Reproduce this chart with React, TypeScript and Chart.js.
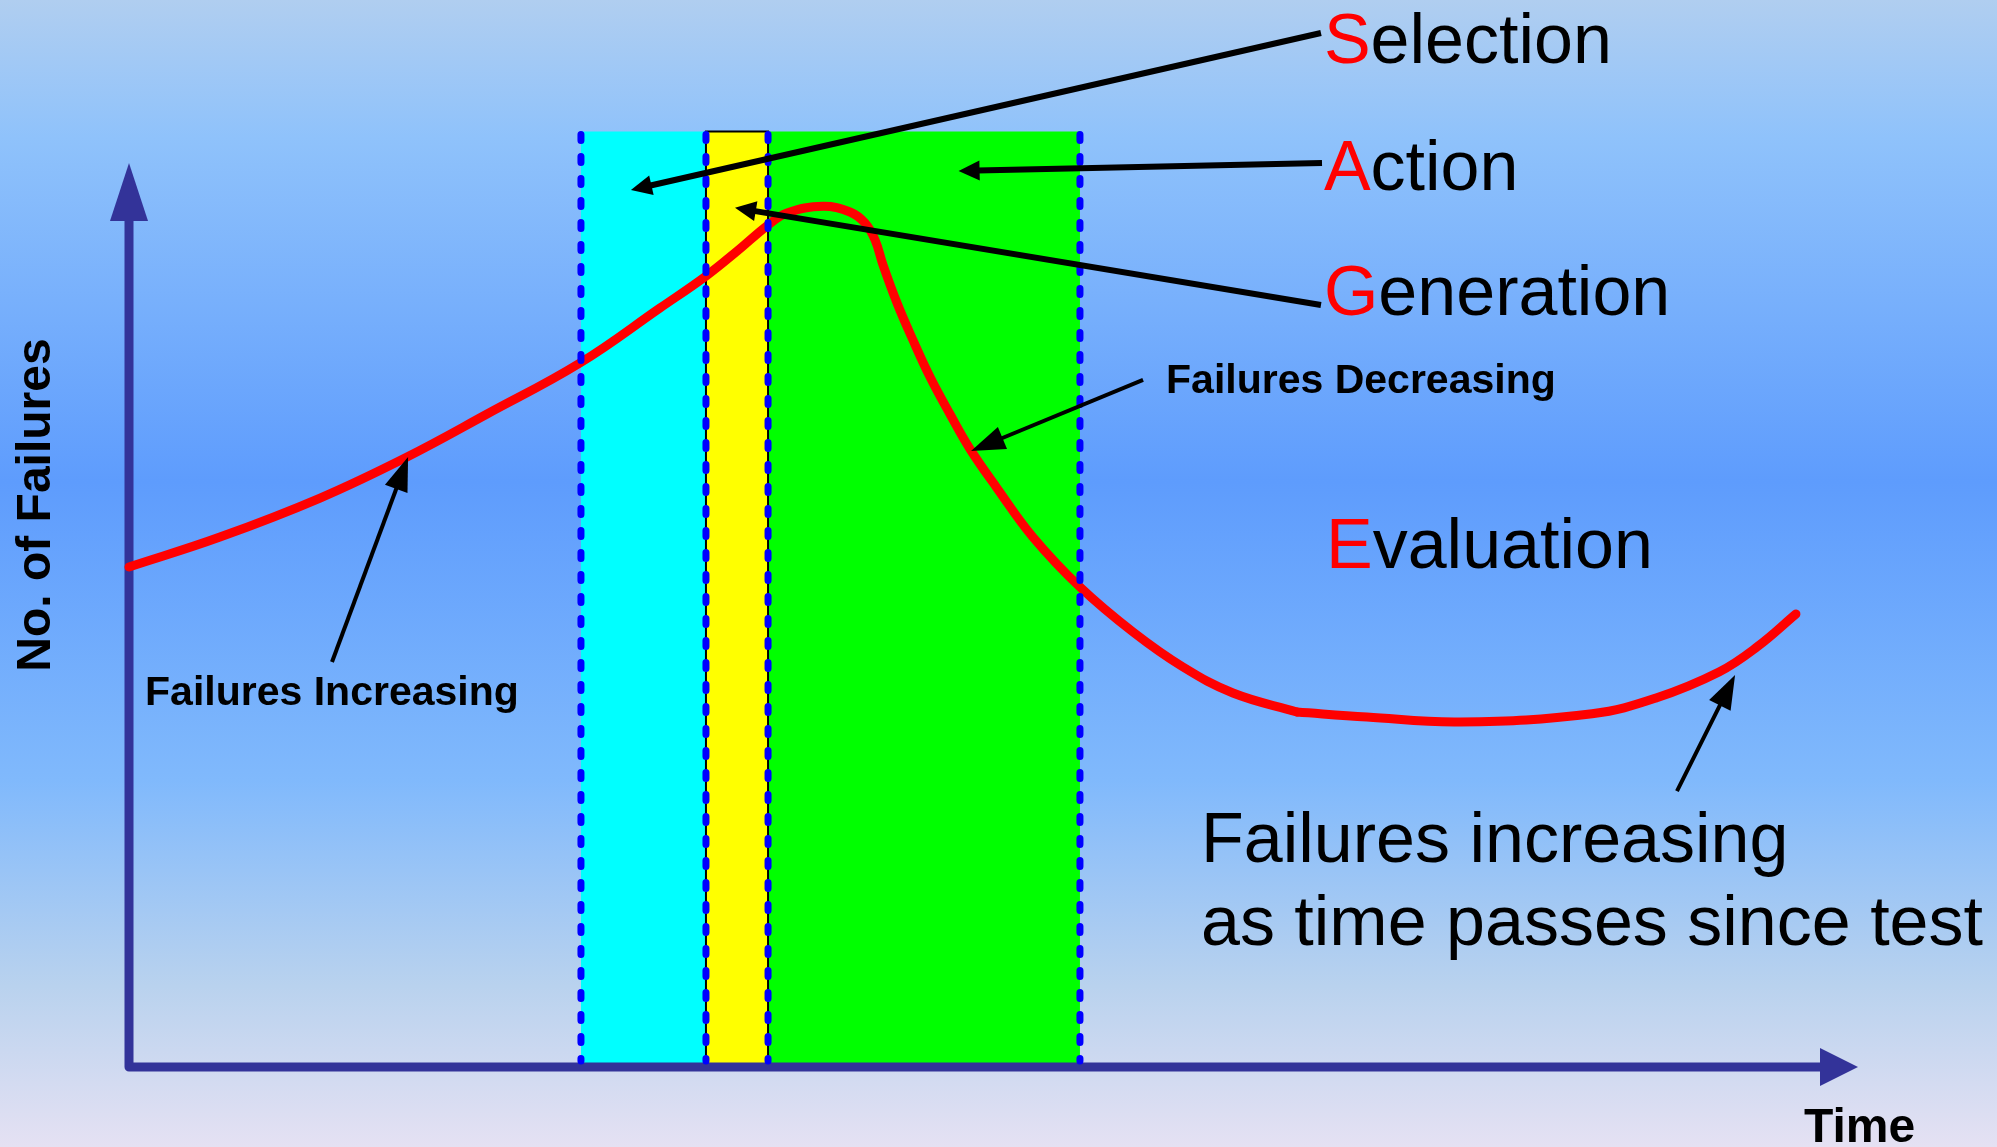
import React, { useEffect, useRef } from "react";
import { Chart, registerables } from "chart.js";

Chart.register(...registerables);

const CANVAS_W = 1997;
const CANVAS_H = 1147;

// Failure curve: time (0–100) vs number of failures (0–100)
const riseTime = [0, 5.26, 11.05, 16.08, 20.71, 26.08, 30.71, 33.37, 35.16, 36.96, 38.06, 40.14, 41.7, 42.57, 43.15, 43.61, 44.42, 45.34, 46.33, 47.48, 48.64, 50.2, 52.28, 55.0, 58.07, 60.96, 63.85, 67.55];
const riseFailures = [53.45, 56.65, 60.82, 65.21, 69.8, 75.25, 81.13, 84.55, 87.2, 90.0, 91.29, 92.0, 91.4, 90.22, 88.4, 85.73, 81.67, 77.71, 73.76, 69.8, 66.06, 61.89, 56.65, 51.31, 46.5, 42.76, 39.98, 37.95];
const tailTime = [67.55, 71.6, 76.98, 84.62, 88.32, 91.96, 94.16, 96.41];
const tailFailures = [37.95, 37.41, 36.88, 37.76, 39.44, 42.22, 44.9, 48.42];

// Phase bands (time units)
const phaseStarts = [26.14, 33.37, 36.96];
const phaseEnds = [33.37, 36.96, 55.0];
const phaseColors = ["#00ffff", "#ffff00", "#00ff00"];
const phaseTop = 100;
const dividerTimes = [26.14, 33.37, 36.96, 55.0];

// Phase words (first letter red)
const sagWords = ["Selection", "Action", "Generation", "Evaluation"];

// Annotation layout (data units)
const sagLabelPos = [
  [69.11, 107.32],
  [69.11, 93.75],
  [69.11, 80.38],
  [69.23, 53.34],
];
const sagArrows = [
  [68.94, 110.53, 29.03, 93.75],
  [69.0, 96.63, 47.98, 95.78],
  [68.94, 81.45, 35.05, 91.85],
];
const noteArrows = [
  [11.74, 43.29, 16.14, 65.2],
  [58.65, 73.44, 48.7, 65.85],
  [89.53, 29.5, 92.89, 41.9],
];

const FONT = "'Liberation Sans', Arial, Helvetica, sans-serif";

function drawArrow(ctx: CanvasRenderingContext2D, x1: number, y1: number, x2: number, y2: number, lw: number, headLen: number, headHalf: number, color: string) {
  const ang = Math.atan2(y2 - y1, x2 - x1);
  const c = Math.cos(ang), s = Math.sin(ang);
  const bx = x2 - headLen * c, by = y2 - headLen * s;
  ctx.save();
  ctx.strokeStyle = color;
  ctx.fillStyle = color;
  ctx.lineWidth = lw;
  ctx.lineCap = "butt";
  ctx.beginPath();
  ctx.moveTo(x1, y1);
  ctx.lineTo(bx + c * 2, by + s * 2);
  ctx.stroke();
  ctx.beginPath();
  ctx.moveTo(x2, y2);
  ctx.lineTo(bx - headHalf * s, by + headHalf * c);
  ctx.lineTo(bx + headHalf * s, by - headHalf * c);
  ctx.closePath();
  ctx.fill();
  ctx.restore();
}

const diagramPlugin = {
  id: "diagram",
  beforeDatasetsDraw(chart: any) {
    const { ctx, scales } = chart;
    const xs = scales.x, ys = scales.y;
    const X = (v: number) => xs.getPixelForValue(v);
    const Y = (v: number) => ys.getPixelForValue(v);
    ctx.save();
    // background
    const g = ctx.createLinearGradient(0, 0, 0, CANVAS_H);
    g.addColorStop(0, "#b0cef0");
    g.addColorStop(0.12, "#8fc2fb");
    g.addColorStop(0.42, "#5e9cfd");
    g.addColorStop(0.68, "#80b9fc");
    g.addColorStop(0.86, "#b9d2ee");
    g.addColorStop(1, "#e5e1f3");
    ctx.fillStyle = g;
    ctx.fillRect(0, 0, CANVAS_W, CANVAS_H);

    // phase bands
    const y0 = Y(0), yt = Y(phaseTop);
    phaseStarts.forEach((s, i) => {
      ctx.fillStyle = phaseColors[i];
      ctx.fillRect(X(s), yt, X(phaseEnds[i]) - X(s), y0 - yt);
    });
    // yellow outline
    ctx.strokeStyle = "#000000";
    ctx.lineWidth = 2;
    ctx.strokeRect(X(phaseStarts[1]), yt, X(phaseEnds[1]) - X(phaseStarts[1]), y0 - yt);

    // axes
    const ax = X(0), ay = Y(0);
    const yTip = Y(96.63), xTip = X(100);
    ctx.strokeStyle = "#333399";
    ctx.fillStyle = "#333399";
    ctx.lineWidth = 9;
    ctx.lineJoin = "round";
    ctx.lineCap = "butt";
    ctx.beginPath();
    ctx.moveTo(ax, yTip + 55);
    ctx.lineTo(ax, ay);
    ctx.lineTo(xTip - 36, ay);
    ctx.stroke();
    ctx.beginPath();
    ctx.moveTo(ax, yTip);
    ctx.lineTo(ax - 19, yTip + 58);
    ctx.lineTo(ax + 19, yTip + 58);
    ctx.closePath();
    ctx.fill();
    ctx.beginPath();
    ctx.moveTo(xTip, ay);
    ctx.lineTo(xTip - 38, ay - 19);
    ctx.lineTo(xTip - 38, ay + 19);
    ctx.closePath();
    ctx.fill();
    ctx.restore();
  },
  afterDatasetsDraw(chart: any) {
    const { ctx, scales } = chart;
    const xs = scales.x, ys = scales.y;
    const X = (v: number) => xs.getPixelForValue(v);
    const Y = (v: number) => ys.getPixelForValue(v);
    ctx.save();
    // dashed dividers
    const y0 = Y(0), yt = Y(phaseTop);
    ctx.strokeStyle = "#0000ff";
    ctx.lineWidth = 7;
    ctx.lineCap = "round";
    ctx.setLineDash([6, 16]);
    dividerTimes.forEach((t) => {
      ctx.beginPath();
      ctx.moveTo(X(t), yt + 3);
      ctx.lineTo(X(t), y0 - 6);
      ctx.stroke();
    });
    ctx.setLineDash([]);

    // arrows
    sagArrows.forEach((a) => drawArrow(ctx, X(a[0]), Y(a[1]), X(a[2]), Y(a[3]), 6, 21, 10, "#000000"));
    noteArrows.forEach((a) => drawArrow(ctx, X(a[0]), Y(a[1]), X(a[2]), Y(a[3]), 4, 34, 12, "#000000"));

    // S A G E labels
    ctx.textBaseline = "alphabetic";
    ctx.textAlign = "left";
    ctx.font = `70px ${FONT}`;
    sagWords.forEach((w, i) => {
      const px = X(sagLabelPos[i][0]), py = Y(sagLabelPos[i][1]);
      ctx.fillStyle = "#ff0000";
      ctx.fillText(w[0], px, py);
      const wFirst = ctx.measureText(w[0]).width;
      ctx.fillStyle = "#000000";
      ctx.fillText(w.slice(1), px + wFirst, py);
    });

    // regular note
    ctx.fillStyle = "#000000";
    ctx.font = `70px ${FONT}`;
    ctx.fillText("Failures increasing", X(62.0), Y(21.91));
    ctx.fillText("as time passes since test", X(62.0), Y(13.04));

    // bold notes
    ctx.font = `bold 41px ${FONT}`;
    ctx.fillText("Failures Increasing", X(0.93), Y(38.7));
    ctx.fillText("Failures Decreasing", X(59.98), Y(72.05));

    // axis titles
    ctx.font = `bold 48px ${FONT}`;
    ctx.fillText("Time", X(96.88), Y(-8.02));
    ctx.save();
    ctx.translate(X(-4.55), Y(60.07));
    ctx.rotate(-Math.PI / 2);
    ctx.textAlign = "center";
    ctx.fillText("No. of Failures", 0, 0);
    ctx.restore();

    ctx.restore();
  },
};

export default function App() {
  const ref = useRef<HTMLCanvasElement | null>(null);
  useEffect(() => {
    if (!ref.current) return;
    const lineStyle = {
      borderColor: "#ff0000",
      borderWidth: 9,
      borderCapStyle: "round" as const,
      borderJoinStyle: "round" as const,
      pointRadius: 0,
      tension: 0.4,
      fill: false,
      clip: false as const,
    };
    const chart = new Chart(ref.current, {
      type: "line",
      data: {
        datasets: [
          { label: "Failures", data: riseTime.map((t, i) => ({ x: t, y: riseFailures[i] })), ...lineStyle },
          { label: "Failures (after test)", data: tailTime.map((t, i) => ({ x: t, y: tailFailures[i] })), ...lineStyle },
        ],
      },
      options: {
        animation: false,
        responsive: false,
        devicePixelRatio: 1,
        layout: { padding: { left: 129, right: 139, top: 131.5, bottom: 80 } },
        plugins: { legend: { display: false }, tooltip: { enabled: false }, title: { display: false } },
        scales: {
          x: { type: "linear", min: 0, max: 100, display: false },
          y: { type: "linear", min: 0, max: 100, display: false },
        },
        events: [],
      },
      plugins: [diagramPlugin],
    });
    return () => chart.destroy();
  }, []);
  return (
    <div style={{ position: "absolute", left: 0, top: 0, width: CANVAS_W, height: CANVAS_H }}>
      <canvas ref={ref} width={CANVAS_W} height={CANVAS_H} style={{ display: "block", width: CANVAS_W, height: CANVAS_H }} />
    </div>
  );
}
